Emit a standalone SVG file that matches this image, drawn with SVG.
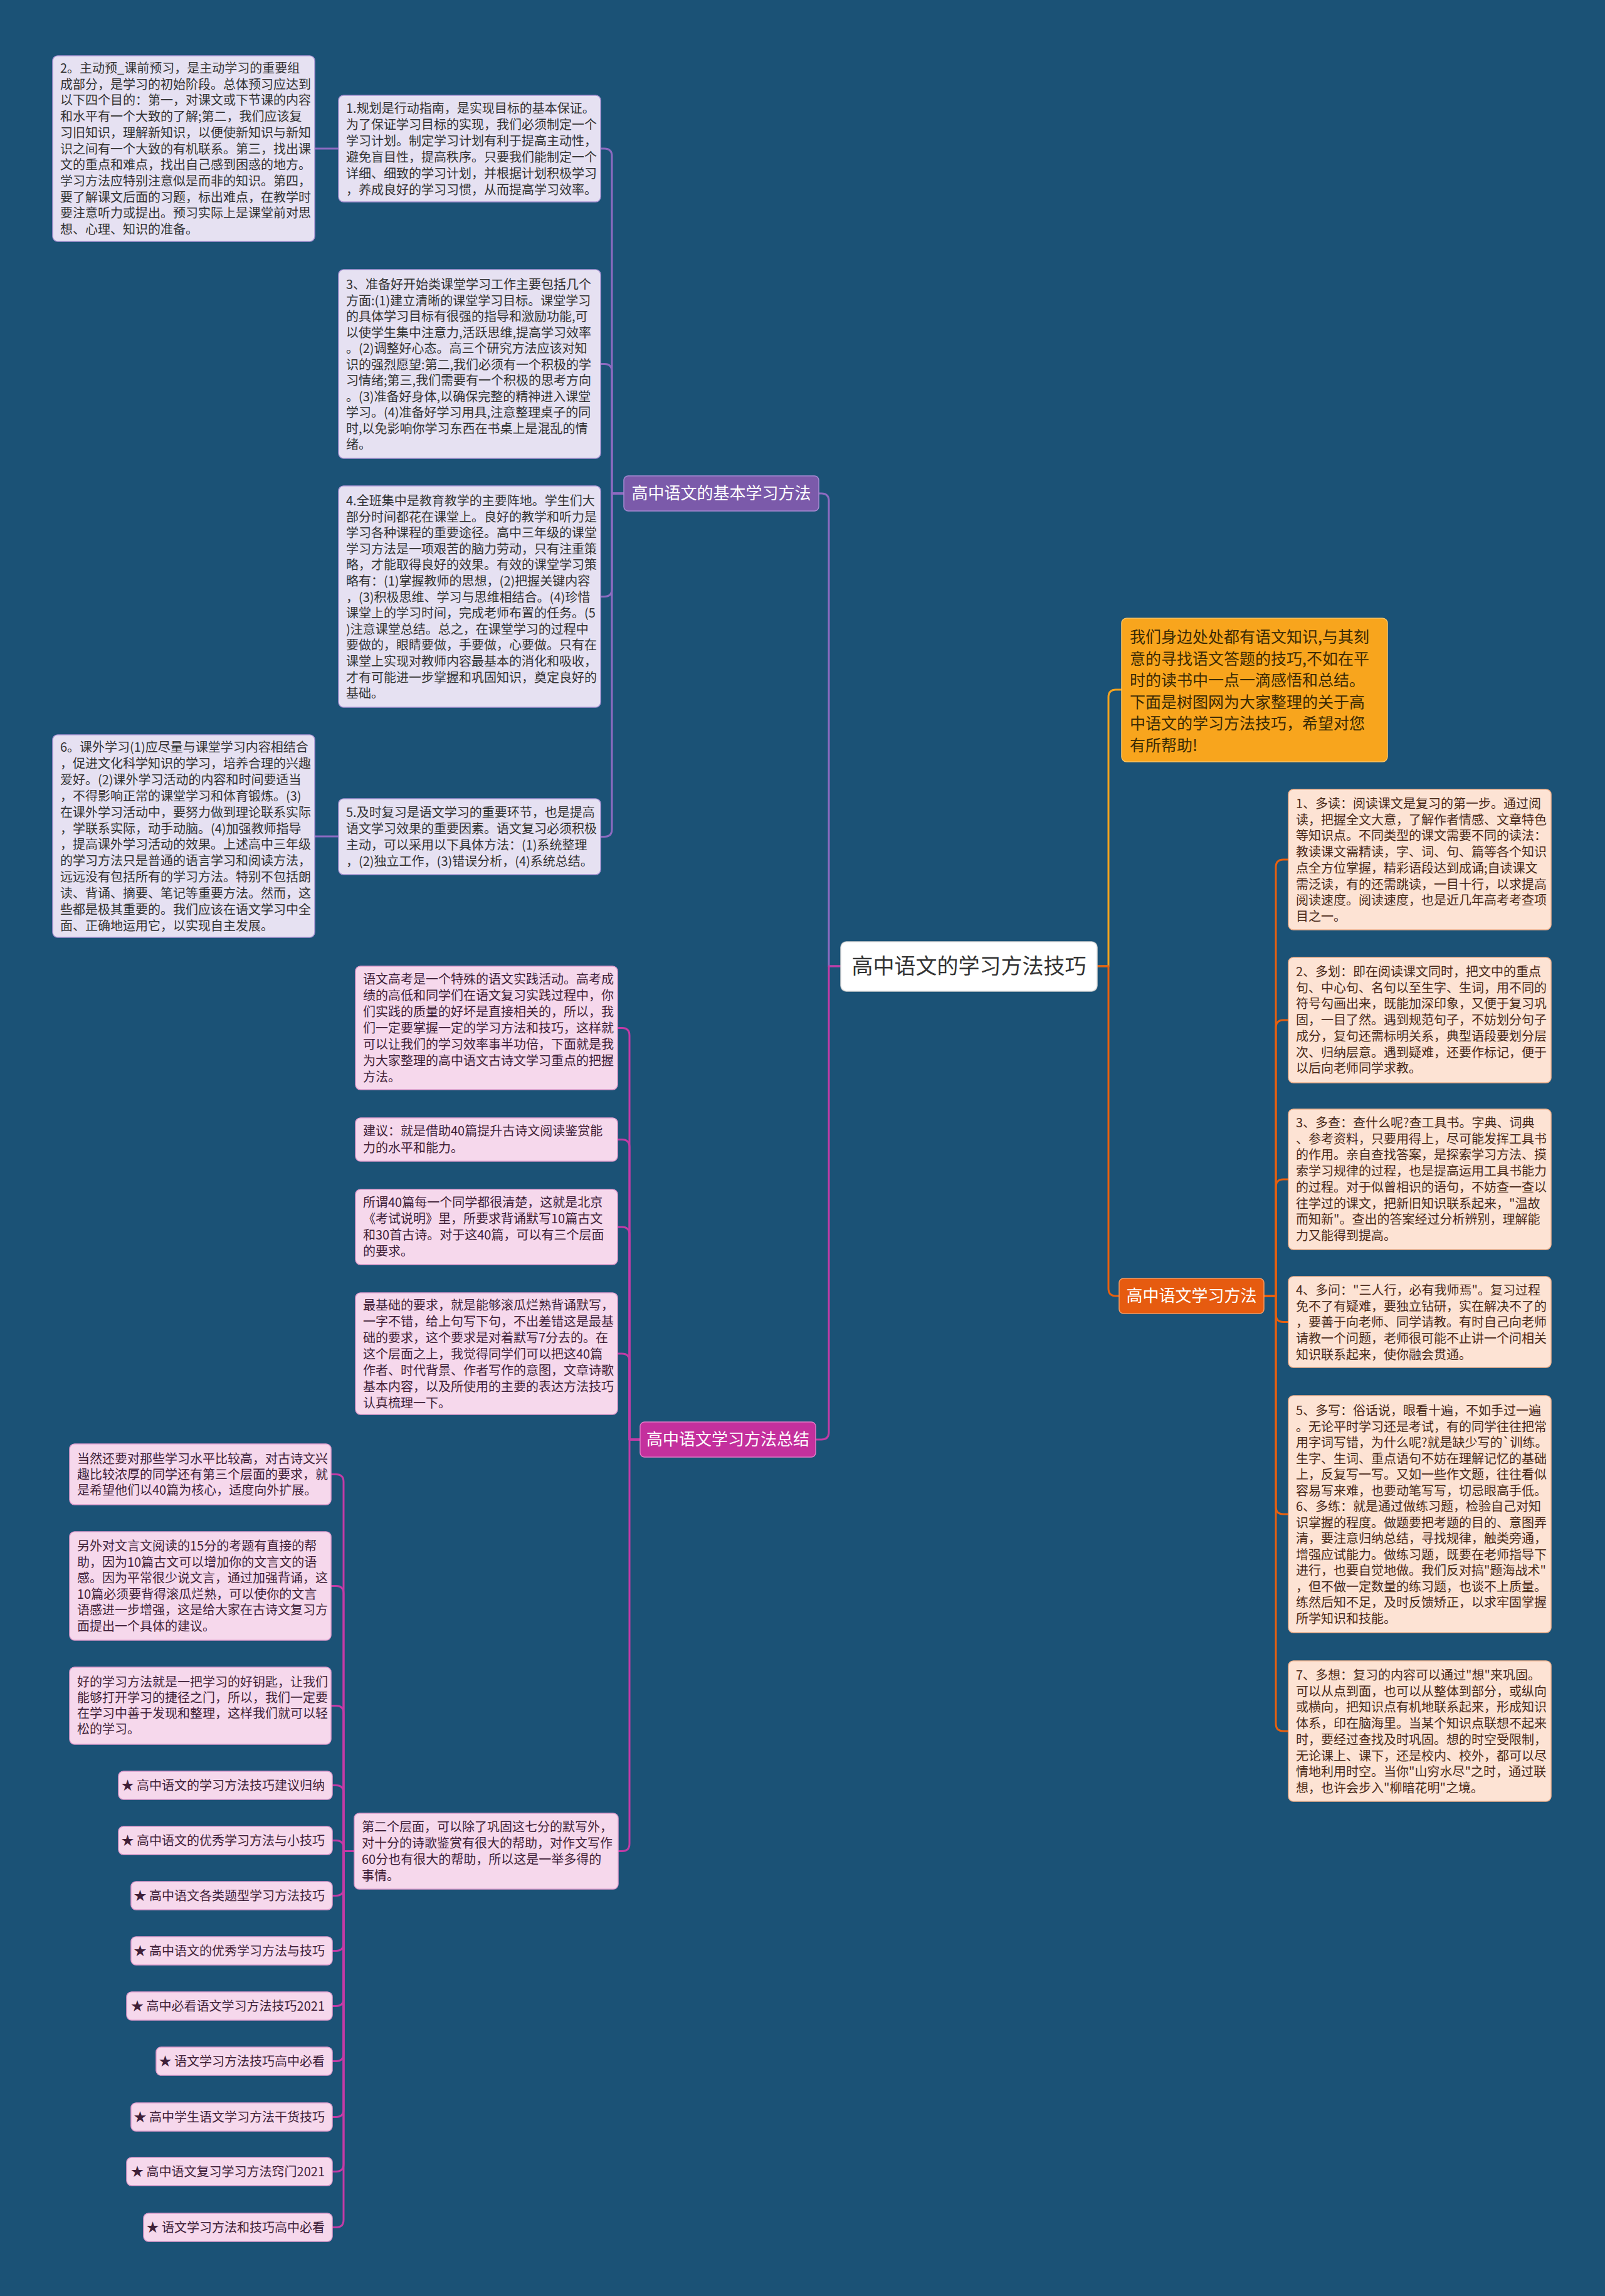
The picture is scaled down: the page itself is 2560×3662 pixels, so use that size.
<svg xmlns="http://www.w3.org/2000/svg" width="2560" height="3662" viewBox="0 0 2560 3662">
<style>
.t{font-family:"Noto Sans CJK SC","Noto Sans",sans-serif;font-size:20px}
.tl{fill:#333333}
.tp{fill:#3f1f38}
.tr{fill:#4a2a1a}
.lav{fill:#e6e1f2;stroke:#a994d3;stroke-width:1.5}
.pink{fill:#f6d8ec;stroke:#e09ccd;stroke-width:1.5}
.peach{fill:#fde3d4;stroke:#f1b28d;stroke-width:1.5}
.c{fill:none;stroke-width:3;stroke-linecap:round;stroke-linejoin:round}
.cp{stroke:#8d6bc1}
.cm{stroke:#c33ba6}
.co{stroke:#e8600f}
.ci{stroke:#f5a31f}
.bt{font-family:"Noto Sans CJK SC","Noto Sans",sans-serif;font-size:26px;fill:#ffffff;text-anchor:middle}
</style>
<rect x="0" y="0" width="2560" height="3662" fill="#1b5276"/>

<g id="connectors">
<path class="c cp" d="M1341,1541 H1322 V799 Q1322,787 1310,787 H1306"/>
<path class="c cm" d="M1341,1541 H1322 V2284 Q1322,2296 1310,2296 H1301"/>
<path class="c ci" d="M1750,1541 H1768 V1112 Q1768,1100 1780,1100 H1789"/>
<path class="c co" d="M1750,1541 H1768 V2055 Q1768,2067 1780,2067 H1785"/>

<path class="c cp" d="M995,787 H976 V249 Q976,237 964,237 H958"/>
<path class="c cp" d="M995,787 H976 V592.5 Q976,580.5 964,580.5 H958"/>
<path class="c cp" d="M995,787 H976 V939.5 Q976,951.5 964,951.5 H958"/>
<path class="c cp" d="M995,787 H976 V1322.5 Q976,1334.5 964,1334.5 H958"/>
<path class="c cp" d="M540,237 H502"/>
<path class="c cp" d="M540,1334 H502"/>

<path class="c cm" d="M1021,2296 H1004 V1651.5 Q1004,1639.5 992,1639.5 H985"/>
<path class="c cm" d="M1021,2296 H1004 V1829.5 Q1004,1817.5 992,1817.5 H985"/>
<path class="c cm" d="M1021,2296 H1004 V1969 Q1004,1957 992,1957 H985"/>
<path class="c cm" d="M1021,2296 H1004 V2171 Q1004,2159 992,2159 H985"/>
<path class="c cm" d="M1021,2296 H1004 V2940.5 Q1004,2952.5 992,2952.5 H986"/>

<path class="c cm" d="M565,2952.5 H548 V2363.5 Q548,2351.5 536,2351.5 H528"/>
<path class="c cm" d="M565,2952.5 H548 V2541.5 Q548,2529.5 536,2529.5 H528"/>
<path class="c cm" d="M565,2952.5 H548 V2732.5 Q548,2720.5 536,2720.5 H528"/>
<path class="c cm" d="M565,2952.5 H548 V2859.5 Q548,2847.5 536,2847.5 H530"/>
<path class="c cm" d="M565,2952.5 H548 V2947.5 Q548,2935.5 536,2935.5 H530"/>
<path class="c cm" d="M565,2952.5 H548 V3011.5 Q548,3023.5 536,3023.5 H530"/>
<path class="c cm" d="M565,2952.5 H548 V3099.5 Q548,3111.5 536,3111.5 H530"/>
<path class="c cm" d="M565,2952.5 H548 V3187.5 Q548,3199.5 536,3199.5 H530"/>
<path class="c cm" d="M565,2952.5 H548 V3275.5 Q548,3287.5 536,3287.5 H530"/>
<path class="c cm" d="M565,2952.5 H548 V3364.5 Q548,3376.5 536,3376.5 H530"/>
<path class="c cm" d="M565,2952.5 H548 V3451.5 Q548,3463.5 536,3463.5 H530"/>
<path class="c cm" d="M565,2952.5 H548 V3540.5 Q548,3552.5 536,3552.5 H530"/>

<path class="c co" d="M2016,2067 H2035 V1383 Q2035,1371 2047,1371 H2055"/>
<path class="c co" d="M2016,2067 H2035 V1639 Q2035,1627 2047,1627 H2055"/>
<path class="c co" d="M2016,2067 H2035 V1893 Q2035,1881 2047,1881 H2055"/>
<path class="c co" d="M2016,2067 H2035 V2096.5 Q2035,2108.5 2047,2108.5 H2055"/>
<path class="c co" d="M2016,2067 H2035 V2403 Q2035,2415 2047,2415 H2055"/>
<path class="c co" d="M2016,2067 H2035 V2749 Q2035,2761 2047,2761 H2055"/>
</g>

<g id="node-root">
<rect x="1341" y="1502" width="409" height="79" rx="9" fill="#ffffff" stroke="#cfcfcf" stroke-width="1.5"/>
<text x="1545.5" y="1553" font-family="Noto Sans CJK SC, Noto Sans, sans-serif" font-size="34" fill="#333333" text-anchor="middle">高中语文的学习方法技巧</text>
</g>

<g id="node-b1">
<rect x="995" y="759" width="311" height="56" rx="7" fill="#7b5aaa" stroke="#a68ad2" stroke-width="1.5"/>
<text class="bt" x="1150.5" y="796">高中语文的基本学习方法</text>
</g>
<g id="node-b2">
<rect x="1021" y="2268" width="280" height="56" rx="7" fill="#c4309d" stroke="#e07ac6" stroke-width="1.5"/>
<text class="bt" x="1161" y="2305">高中语文学习方法总结</text>
</g>
<g id="node-b3">
<rect x="1785" y="2039" width="231" height="56" rx="7" fill="#e65b10" stroke="#f39a62" stroke-width="1.5"/>
<text class="bt" x="1900.5" y="2076">高中语文学习方法</text>
</g>

<g id="node-intro">
<rect x="1789" y="986" width="424" height="229" rx="8" fill="#f8a51d" stroke="#fbc460" stroke-width="1.5"/>
<text font-family="Noto Sans CJK SC, Noto Sans, sans-serif" font-size="25" fill="#3a2a05" x="1802" y="1025"><tspan x="1802">我们身边处处都有语文知识,与其刻</tspan><tspan x="1802" dy="34.5">意的寻找语文答题的技巧,不如在平</tspan><tspan x="1802" dy="34.5">时的读书中一点一滴感悟和总结。</tspan><tspan x="1802" dy="34.5">下面是树图网为大家整理的关于高</tspan><tspan x="1802" dy="34.5">中语文的学习方法技巧，希望对您</tspan><tspan x="1802" dy="34.5">有所帮助!</tspan></text>
</g>

<g id="node-l2">
<rect class="lav" x="84" y="89" width="418" height="296" rx="8"/>
<text class="t tl" x="96" y="116"><tspan x="96">2。主动预_课前预习，是主动学习的重要组</tspan><tspan x="96" dy="25.7">成部分，是学习的初始阶段。总体预习应达到</tspan><tspan x="96" dy="25.7">以下四个目的：第一，对课文或下节课的内容</tspan><tspan x="96" dy="25.7">和水平有一个大致的了解;第二，我们应该复</tspan><tspan x="96" dy="25.7">习旧知识，理解新知识，以便使新知识与新知</tspan><tspan x="96" dy="25.7">识之间有一个大致的有机联系。第三，找出课</tspan><tspan x="96" dy="25.7">文的重点和难点，找出自己感到困惑的地方。</tspan><tspan x="96" dy="25.7">学习方法应特别注意似是而非的知识。第四，</tspan><tspan x="96" dy="25.7">要了解课文后面的习题，标出难点，在教学时</tspan><tspan x="96" dy="25.7">要注意听力或提出。预习实际上是课堂前对思</tspan><tspan x="96" dy="25.7">想、心理、知识的准备。</tspan></text>
</g>

<g id="node-l1">
<rect class="lav" x="540" y="152" width="418" height="170" rx="8"/>
<text class="t tl" x="552" y="180"><tspan x="552">1.规划是行动指南，是实现目标的基本保证。</tspan><tspan x="552" dy="26">为了保证学习目标的实现，我们必须制定一个</tspan><tspan x="552" dy="26">学习计划。制定学习计划有利于提高主动性，</tspan><tspan x="552" dy="26">避免盲目性，提高秩序。只要我们能制定一个</tspan><tspan x="552" dy="26">详细、细致的学习计划，并根据计划积极学习</tspan><tspan x="552" dy="26">，养成良好的学习习惯，从而提高学习效率。</tspan></text>
</g>

<g id="node-l3">
<rect class="lav" x="540" y="430" width="418" height="301" rx="8"/>
<text class="t tl" x="552" y="461"><tspan x="552">3、准备好开始类课堂学习工作主要包括几个</tspan><tspan x="552" dy="25.5">方面:(1)建立清晰的课堂学习目标。课堂学习</tspan><tspan x="552" dy="25.5">的具体学习目标有很强的指导和激励功能,可</tspan><tspan x="552" dy="25.5">以使学生集中注意力,活跃思维,提高学习效率</tspan><tspan x="552" dy="25.5">。(2)调整好心态。高三个研究方法应该对知</tspan><tspan x="552" dy="25.5">识的强烈愿望:第二,我们必须有一个积极的学</tspan><tspan x="552" dy="25.5">习情绪;第三,我们需要有一个积极的思考方向</tspan><tspan x="552" dy="25.5">。(3)准备好身体,以确保完整的精神进入课堂</tspan><tspan x="552" dy="25.5">学习。(4)准备好学习用具,注意整理桌子的同</tspan><tspan x="552" dy="25.5">时,以免影响你学习东西在书桌上是混乱的情</tspan><tspan x="552" dy="25.5">绪。</tspan></text>
</g>

<g id="node-l4">
<rect class="lav" x="540" y="775" width="418" height="353" rx="8"/>
<text class="t tl" x="552" y="806"><tspan x="552">4.全班集中是教育教学的主要阵地。学生们大</tspan><tspan x="552" dy="25.6">部分时间都花在课堂上。良好的教学和听力是</tspan><tspan x="552" dy="25.6">学习各种课程的重要途径。高中三年级的课堂</tspan><tspan x="552" dy="25.6">学习方法是一项艰苦的脑力劳动，只有注重策</tspan><tspan x="552" dy="25.6">略，才能取得良好的效果。有效的课堂学习策</tspan><tspan x="552" dy="25.6">略有：(1)掌握教师的思想，(2)把握关键内容</tspan><tspan x="552" dy="25.6">，(3)积极思维、学习与思维相结合。(4)珍惜</tspan><tspan x="552" dy="25.6">课堂上的学习时间，完成老师布置的任务。(5</tspan><tspan x="552" dy="25.6">)注意课堂总结。总之，在课堂学习的过程中</tspan><tspan x="552" dy="25.6">要做的，眼睛要做，手要做，心要做。只有在</tspan><tspan x="552" dy="25.6">课堂上实现对教师内容最基本的消化和吸收，</tspan><tspan x="552" dy="25.6">才有可能进一步掌握和巩固知识，奠定良好的</tspan><tspan x="552" dy="25.6">基础。</tspan></text>
</g>

<g id="node-l5">
<rect class="lav" x="540" y="1274" width="418" height="121" rx="8"/>
<text class="t tl" x="552" y="1303"><tspan x="552">5.及时复习是语文学习的重要环节，也是提高</tspan><tspan x="552" dy="26">语文学习效果的重要因素。语文复习必须积极</tspan><tspan x="552" dy="26">主动，可以采用以下具体方法：(1)系统整理</tspan><tspan x="552" dy="26">，(2)独立工作，(3)错误分析，(4)系统总结。</tspan></text>
</g>

<g id="node-l6">
<rect class="lav" x="84" y="1172" width="418" height="323" rx="8"/>
<text class="t tl" x="96" y="1199"><tspan x="96">6。课外学习(1)应尽量与课堂学习内容相结合</tspan><tspan x="96" dy="25.9">，促进文化科学知识的学习，培养合理的兴趣</tspan><tspan x="96" dy="25.9">爱好。(2)课外学习活动的内容和时间要适当</tspan><tspan x="96" dy="25.9">，不得影响正常的课堂学习和体育锻炼。(3)</tspan><tspan x="96" dy="25.9">在课外学习活动中，要努力做到理论联系实际</tspan><tspan x="96" dy="25.9">，学联系实际，动手动脑。(4)加强教师指导</tspan><tspan x="96" dy="25.9">，提高课外学习活动的效果。上述高中三年级</tspan><tspan x="96" dy="25.9">的学习方法只是普通的语言学习和阅读方法，</tspan><tspan x="96" dy="25.9">远远没有包括所有的学习方法。特别不包括朗</tspan><tspan x="96" dy="25.9">读、背诵、摘要、笔记等重要方法。然而，这</tspan><tspan x="96" dy="25.9">些都是极其重要的。我们应该在语文学习中全</tspan><tspan x="96" dy="25.9">面、正确地运用它，以实现自主发展。</tspan></text>
</g>

<g id="node-p1">
<rect class="pink" x="567" y="1541" width="418" height="197" rx="8"/>
<text class="t tp" x="579" y="1569"><tspan x="579">语文高考是一个特殊的语文实践活动。高考成</tspan><tspan x="579" dy="26">绩的高低和同学们在语文复习实践过程中，你</tspan><tspan x="579" dy="26">们实践的质量的好坏是直接相关的，所以，我</tspan><tspan x="579" dy="26">们一定要掌握一定的学习方法和技巧，这样就</tspan><tspan x="579" dy="26">可以让我们的学习效率事半功倍，下面就是我</tspan><tspan x="579" dy="26">为大家整理的高中语文古诗文学习重点的把握</tspan><tspan x="579" dy="26">方法。</tspan></text>
</g>

<g id="node-p2">
<rect class="pink" x="567" y="1783" width="418" height="69" rx="8"/>
<text class="t tp" x="579" y="1811"><tspan x="579">建议：就是借助40篇提升古诗文阅读鉴赏能</tspan><tspan x="579" dy="27">力的水平和能力。</tspan></text>
</g>

<g id="node-p3">
<rect class="pink" x="567" y="1897" width="418" height="120" rx="8"/>
<text class="t tp" x="579" y="1925"><tspan x="579">所谓40篇每一个同学都很清楚，这就是北京</tspan><tspan x="579" dy="26">《考试说明》里，所要求背诵默写10篇古文</tspan><tspan x="579" dy="26">和30首古诗。对于这40篇，可以有三个层面</tspan><tspan x="579" dy="26">的要求。</tspan></text>
</g>

<g id="node-p4">
<rect class="pink" x="567" y="2062" width="418" height="194" rx="8"/>
<text class="t tp" x="579" y="2089"><tspan x="579">最基础的要求，就是能够滚瓜烂熟背诵默写，</tspan><tspan x="579" dy="26">一字不错，给上句写下句，不出差错这是最基</tspan><tspan x="579" dy="26">础的要求，这个要求是对着默写7分去的。在</tspan><tspan x="579" dy="26">这个层面之上，我觉得同学们可以把这40篇</tspan><tspan x="579" dy="26">作者、时代背景、作者写作的意图，文章诗歌</tspan><tspan x="579" dy="26">基本内容，以及所使用的主要的表达方法技巧</tspan><tspan x="579" dy="26">认真梳理一下。</tspan></text>
</g>

<g id="node-p5">
<rect class="pink" x="565" y="2892" width="421" height="121" rx="8"/>
<text class="t tp" x="577" y="2921"><tspan x="577">第二个层面，可以除了巩固这七分的默写外，</tspan><tspan x="577" dy="26">对十分的诗歌鉴赏有很大的帮助，对作文写作</tspan><tspan x="577" dy="26">60分也有很大的帮助，所以这是一举多得的</tspan><tspan x="577" dy="26">事情。</tspan></text>
</g>

<g id="node-q1">
<rect class="pink" x="111" y="2303" width="417" height="97" rx="8"/>
<text class="t tp" x="123" y="2334"><tspan x="123">当然还要对那些学习水平比较高，对古诗文兴</tspan><tspan x="123" dy="25">趣比较浓厚的同学还有第三个层面的要求，就</tspan><tspan x="123" dy="25">是希望他们以40篇为核心，适度向外扩展。</tspan></text>
</g>

<g id="node-q2">
<rect class="pink" x="111" y="2443" width="417" height="173" rx="8"/>
<text class="t tp" x="123" y="2473"><tspan x="123">另外对文言文阅读的15分的考题有直接的帮</tspan><tspan x="123" dy="25.5">助，因为10篇古文可以增加你的文言文的语</tspan><tspan x="123" dy="25.5">感。因为平常很少说文言，通过加强背诵，这</tspan><tspan x="123" dy="25.5">10篇必须要背得滚瓜烂熟，可以使你的文言</tspan><tspan x="123" dy="25.5">语感进一步增强，这是给大家在古诗文复习方</tspan><tspan x="123" dy="25.5">面提出一个具体的建议。</tspan></text>
</g>

<g id="node-q3">
<rect class="pink" x="111" y="2659" width="417" height="123" rx="8"/>
<text class="t tp" x="123" y="2690"><tspan x="123">好的学习方法就是一把学习的好钥匙，让我们</tspan><tspan x="123" dy="25">能够打开学习的捷径之门，所以，我们一定要</tspan><tspan x="123" dy="25">在学习中善于发现和整理，这样我们就可以轻</tspan><tspan x="123" dy="25">松的学习。</tspan></text>
</g>

<g id="node-s1"><rect class="pink" x="189" y="2825" width="341" height="45" rx="8"/><text class="t tp" x="518" y="2855" text-anchor="end">★ 高中语文的学习方法技巧建议归纳</text></g>
<g id="node-s2"><rect class="pink" x="189" y="2913" width="341" height="45" rx="8"/><text class="t tp" x="518" y="2943" text-anchor="end">★ 高中语文的优秀学习方法与小技巧</text></g>
<g id="node-s3"><rect class="pink" x="209" y="3001" width="321" height="45" rx="8"/><text class="t tp" x="518" y="3031" text-anchor="end">★ 高中语文各类题型学习方法技巧</text></g>
<g id="node-s4"><rect class="pink" x="209" y="3089" width="321" height="45" rx="8"/><text class="t tp" x="518" y="3119" text-anchor="end">★ 高中语文的优秀学习方法与技巧</text></g>
<g id="node-s5"><rect class="pink" x="202" y="3177" width="328" height="45" rx="8"/><text class="t tp" x="518" y="3207" text-anchor="end">★ 高中必看语文学习方法技巧2021</text></g>
<g id="node-s6"><rect class="pink" x="249" y="3265" width="281" height="45" rx="8"/><text class="t tp" x="518" y="3295" text-anchor="end">★ 语文学习方法技巧高中必看</text></g>
<g id="node-s7"><rect class="pink" x="209" y="3354" width="321" height="45" rx="8"/><text class="t tp" x="518" y="3384" text-anchor="end">★ 高中学生语文学习方法干货技巧</text></g>
<g id="node-s8"><rect class="pink" x="202" y="3441" width="328" height="45" rx="8"/><text class="t tp" x="518" y="3471" text-anchor="end">★ 高中语文复习学习方法窍门2021</text></g>
<g id="node-s9"><rect class="pink" x="229" y="3530" width="301" height="45" rx="8"/><text class="t tp" x="518" y="3560" text-anchor="end">★ 语文学习方法和技巧高中必看</text></g>

<g id="node-r1">
<rect class="peach" x="2055" y="1259" width="419" height="224" rx="8"/>
<text class="t tr" x="2067" y="1289"><tspan x="2067">1、多读：阅读课文是复习的第一步。通过阅</tspan><tspan x="2067" dy="25.7">读，把握全文大意，了解作者情感、文章特色</tspan><tspan x="2067" dy="25.7">等知识点。不同类型的课文需要不同的读法：</tspan><tspan x="2067" dy="25.7">教读课文需精读，字、词、句、篇等各个知识</tspan><tspan x="2067" dy="25.7">点全方位掌握，精彩语段达到成诵;自读课文</tspan><tspan x="2067" dy="25.7">需泛读，有的还需跳读，一目十行，以求提高</tspan><tspan x="2067" dy="25.7">阅读速度。阅读速度，也是近几年高考考查项</tspan><tspan x="2067" dy="25.7">目之一。</tspan></text>
</g>

<g id="node-r2">
<rect class="peach" x="2055" y="1527" width="419" height="200" rx="8"/>
<text class="t tr" x="2067" y="1557"><tspan x="2067">2、多划：即在阅读课文同时，把文中的重点</tspan><tspan x="2067" dy="25.7">句、中心句、名句以至生字、生词，用不同的</tspan><tspan x="2067" dy="25.7">符号勾画出来，既能加深印象，又便于复习巩</tspan><tspan x="2067" dy="25.7">固，一目了然。遇到规范句子，不妨划分句子</tspan><tspan x="2067" dy="25.7">成分，复句还需标明关系，典型语段要划分层</tspan><tspan x="2067" dy="25.7">次、归纳层意。遇到疑难，还要作标记，便于</tspan><tspan x="2067" dy="25.7">以后向老师同学求教。</tspan></text>
</g>

<g id="node-r3">
<rect class="peach" x="2055" y="1769" width="419" height="224" rx="8"/>
<text class="t tr" x="2067" y="1798"><tspan x="2067">3、多查：查什么呢?查工具书。字典、词典</tspan><tspan x="2067" dy="25.7">、参考资料，只要用得上，尽可能发挥工具书</tspan><tspan x="2067" dy="25.7">的作用。亲自查找答案，是探索学习方法、摸</tspan><tspan x="2067" dy="25.7">索学习规律的过程，也是提高运用工具书能力</tspan><tspan x="2067" dy="25.7">的过程。对于似曾相识的语句，不妨查一查以</tspan><tspan x="2067" dy="25.7">往学过的课文，把新旧知识联系起来，"温故</tspan><tspan x="2067" dy="25.7">而知新"。查出的答案经过分析辨别，理解能</tspan><tspan x="2067" dy="25.7">力又能得到提高。</tspan></text>
</g>

<g id="node-r4">
<rect class="peach" x="2055" y="2036" width="419" height="145" rx="8"/>
<text class="t tr" x="2067" y="2065"><tspan x="2067">4、多问："三人行，必有我师焉"。复习过程</tspan><tspan x="2067" dy="25.7">免不了有疑难，要独立钻研，实在解决不了的</tspan><tspan x="2067" dy="25.7">，要善于向老师、同学请教。有时自己向老师</tspan><tspan x="2067" dy="25.7">请教一个问题，老师很可能不止讲一个问相关</tspan><tspan x="2067" dy="25.7">知识联系起来，使你融会贯通。</tspan></text>
</g>

<g id="node-r56">
<rect class="peach" x="2055" y="2226" width="419" height="378" rx="8"/>
<text class="t tr" x="2067" y="2257"><tspan x="2067">5、多写：俗话说，眼看十遍，不如手过一遍</tspan><tspan x="2067" dy="25.5">。无论平时学习还是考试，有的同学往往把常</tspan><tspan x="2067" dy="25.5">用字词写错，为什么呢?就是缺少写的`训练。</tspan><tspan x="2067" dy="25.5">生字、生词、重点语句不妨在理解记忆的基础</tspan><tspan x="2067" dy="25.5">上，反复写一写。又如一些作文题，往往看似</tspan><tspan x="2067" dy="25.5">容易写来难，也要动笔写写，切忌眼高手低。</tspan><tspan x="2067" dy="25.5">6、多练：就是通过做练习题，检验自己对知</tspan><tspan x="2067" dy="25.5">识掌握的程度。做题要把考题的目的、意图弄</tspan><tspan x="2067" dy="25.5">清，要注意归纳总结，寻找规律，触类旁通，</tspan><tspan x="2067" dy="25.5">增强应试能力。做练习题，既要在老师指导下</tspan><tspan x="2067" dy="25.5">进行，也要自觉地做。我们反对搞"题海战术"</tspan><tspan x="2067" dy="25.5">，但不做一定数量的练习题，也谈不上质量。</tspan><tspan x="2067" dy="25.5">练然后知不足，及时反馈矫正，以求牢固掌握</tspan><tspan x="2067" dy="25.5">所学知识和技能。</tspan></text>
</g>

<g id="node-r7">
<rect class="peach" x="2055" y="2649" width="419" height="224" rx="8"/>
<text class="t tr" x="2067" y="2679"><tspan x="2067">7、多想：复习的内容可以通过"想"来巩固。</tspan><tspan x="2067" dy="25.7">可以从点到面，也可以从整体到部分，或纵向</tspan><tspan x="2067" dy="25.7">或横向，把知识点有机地联系起来，形成知识</tspan><tspan x="2067" dy="25.7">体系，印在脑海里。当某个知识点联想不起来</tspan><tspan x="2067" dy="25.7">时，要经过查找及时巩固。想的时空受限制，</tspan><tspan x="2067" dy="25.7">无论课上、课下，还是校内、校外，都可以尽</tspan><tspan x="2067" dy="25.7">情地利用时空。当你"山穷水尽"之时，通过联</tspan><tspan x="2067" dy="25.7">想，也许会步入"柳暗花明"之境。</tspan></text>
</g>
</svg>
